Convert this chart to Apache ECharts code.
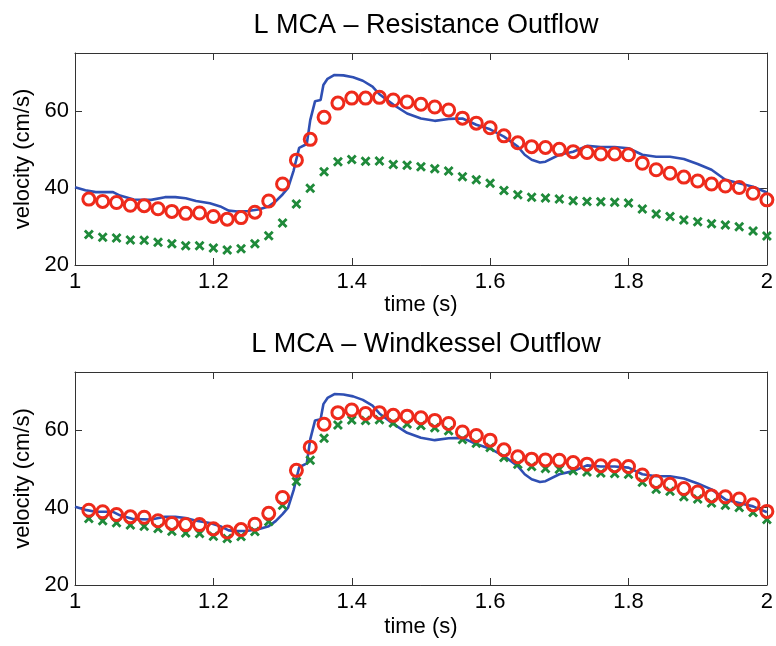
<!DOCTYPE html>
<html>
<head>
<meta charset="utf-8">
<script src="https://cdn.jsdelivr.net/npm/echarts@6/dist/echarts.min.js"></script>
<style>
  html, body { margin: 0; padding: 0; background: #fff; }
  #chart { width: 776px; height: 646px; }
</style>
</head>
<body>
<div id="chart"></div>
<script>
// measured velocity (blue line), [time, velocity]
const measured = [
  [1.00, 40.2], [1.015, 39.4], [1.03, 38.9], [1.055, 38.9], [1.065, 38.0], [1.085, 37.0],
  [1.11, 36.9], [1.13, 37.6], [1.145, 37.6], [1.16, 37.3], [1.175, 36.6], [1.195, 36.0],
  [1.21, 35.2], [1.222, 34.1], [1.235, 33.9], [1.25, 34.0], [1.265, 34.4], [1.28, 35.2],
  [1.29, 36.5], [1.30, 38.3], [1.308, 40.0], [1.316, 44.5], [1.324, 50.4], [1.335, 51.4],
  [1.34, 57.6], [1.347, 62.5], [1.355, 62.8], [1.359, 66.7], [1.365, 68.3], [1.375, 69.3],
  [1.388, 69.2], [1.402, 68.7], [1.416, 67.8], [1.43, 66.3], [1.44, 64.3], [1.46, 61.6],
  [1.48, 59.3], [1.50, 58.0], [1.52, 57.4], [1.54, 57.9], [1.56, 58.0], [1.58, 56.4],
  [1.60, 55.2], [1.62, 53.3], [1.64, 50.7], [1.65, 48.6], [1.66, 47.3], [1.672, 46.6],
  [1.68, 46.8], [1.70, 48.6], [1.72, 49.4], [1.74, 50.9], [1.76, 50.6], [1.78, 50.6],
  [1.80, 50.3], [1.82, 48.6], [1.84, 48.1], [1.86, 48.1], [1.88, 47.5], [1.90, 46.2],
  [1.92, 44.7], [1.94, 42.1], [1.96, 41.2], [1.98, 40.3], [2.00, 38.8]
];

// sample times for the model markers (1.02 .. 2.00)
const times = [
  1.02, 1.04, 1.06, 1.08, 1.10, 1.12, 1.14, 1.16, 1.18, 1.20,
  1.22, 1.24, 1.26, 1.28, 1.30, 1.32, 1.34, 1.36, 1.38, 1.40,
  1.42, 1.44, 1.46, 1.48, 1.50, 1.52, 1.54, 1.56, 1.58, 1.60,
  1.62, 1.64, 1.66, 1.68, 1.70, 1.72, 1.74, 1.76, 1.78, 1.80,
  1.82, 1.84, 1.86, 1.88, 1.90, 1.92, 1.94, 1.96, 1.98, 2.00
];

// resistance outflow - circles
const resCircles = [
  37.1, 36.5, 36.2, 35.5, 35.4, 34.6, 33.9, 33.4, 33.5, 32.6,
  31.9, 32.3, 33.7, 36.6, 41.0, 47.2, 52.6, 58.3, 62.0, 63.3,
  63.3, 63.5, 62.8, 62.3, 61.7, 61.0, 60.2, 58.1, 56.8, 55.6,
  53.5, 51.7, 50.7, 50.5, 50.0, 49.4, 49.2, 48.8, 48.8, 48.6,
  46.4, 44.7, 43.8, 42.8, 41.8, 41.0, 40.5, 40.1, 38.6, 36.9
];
// resistance outflow - crosses
const resCrosses = [
  27.9, 27.2, 27.0, 26.5, 26.4, 25.9, 25.5, 25.0, 25.0, 24.4,
  23.9, 24.2, 25.5, 27.6, 30.9, 35.8, 39.9, 44.2, 46.8, 47.4,
  46.9, 47.0, 46.1, 45.9, 45.5, 45.0, 44.4, 42.9, 42.1, 41.2,
  39.3, 38.2, 37.6, 37.4, 37.1, 36.7, 36.5, 36.4, 36.3, 36.1,
  34.5, 33.2, 32.6, 31.7, 31.2, 30.7, 30.4, 29.9, 28.8, 27.5
];

// windkessel outflow - circles
const wkCircles = [
  39.3, 38.9, 38.2, 37.6, 37.5, 36.6, 35.9, 35.6, 35.6, 34.5,
  33.7, 34.3, 35.7, 38.5, 42.6, 49.6, 55.6, 61.5, 64.5, 65.2,
  64.3, 64.5, 63.8, 63.6, 63.2, 62.5, 61.7, 59.5, 58.6, 57.4,
  54.9, 53.1, 52.5, 52.3, 52.2, 51.6, 51.2, 50.8, 50.8, 50.6,
  48.4, 46.7, 46.0, 44.9, 44.0, 43.0, 42.8, 42.2, 40.7, 39.0
];
// windkessel outflow - crosses
const wkCrosses = [
  37.2, 36.6, 36.1, 35.5, 35.2, 34.6, 33.9, 33.4, 33.3, 32.6,
  32.0, 32.5, 33.8, 36.4, 40.6, 46.7, 52.2, 57.9, 61.3, 62.6,
  62.5, 62.7, 61.8, 61.6, 61.2, 60.6, 59.8, 57.6, 56.6, 55.5,
  52.9, 51.2, 50.6, 50.1, 49.9, 49.5, 49.2, 48.9, 48.8, 48.6,
  46.5, 44.7, 44.2, 42.8, 42.2, 41.2, 40.6, 40.0, 38.7, 36.9
];

const titles = ['L MCA \u2013 Resistance Outflow', 'L MCA \u2013 Windkessel Outflow'];

const FONT = '"Liberation Sans", Arial, Helvetica, sans-serif';
const BLUE = '#2f4fb3';
const RED = '#ee2a1b';
const GREEN = '#1f8a3a';
const AXIS = '#333';
// bold "x" marker
const CROSS = 'path://M0,2L2,0L5,3L8,0L10,2L7,5L10,8L8,10L5,7L2,10L0,8L3,5Z';

const chart = echarts.init(document.getElementById('chart'));

const pair = (ys) => times.map((t, i) => [t, ys[i]]);

const grids = [
  { left: 75, right: 9, top: 53, height: 212 },
  { left: 75, right: 9, top: 372, height: 213 }
];
const nameGaps = [28, 31];

const xAxis = [];
const yAxis = [];
grids.forEach((g, i) => {
  // bottom x axis with labels
  xAxis.push({
    gridIndex: i, type: 'value', min: 1, max: 2, interval: 0.2, position: 'bottom',
    name: 'time (s)', nameLocation: 'middle', nameGap: nameGaps[i],
    nameTextStyle: { fontFamily: FONT, fontSize: 22, color: '#000' },
    axisLine: { show: true, onZero: false, lineStyle: { color: AXIS, width: 1 } },
    axisTick: { show: true, inside: true, length: 7, lineStyle: { color: AXIS } },
    axisLabel: { fontFamily: FONT, fontSize: 22, color: '#000', margin: 6 },
    splitLine: { show: false }
  });
  // top x axis (box)
  xAxis.push({
    gridIndex: i, type: 'value', min: 1, max: 2, interval: 0.2, position: 'top',
    axisLine: { show: true, onZero: false, lineStyle: { color: AXIS, width: 1 } },
    axisTick: { show: true, inside: true, length: 7, lineStyle: { color: AXIS } },
    axisLabel: { show: false },
    splitLine: { show: false }
  });
  yAxis.push({
    gridIndex: i, type: 'value', min: 20, max: 75, interval: 20, position: 'left',
    name: 'velocity (cm/s)', nameLocation: 'middle', nameGap: 37,
    nameTextStyle: { fontFamily: FONT, fontSize: 22, color: '#000' },
    axisLine: { show: true, onZero: false, lineStyle: { color: AXIS, width: 1 } },
    axisTick: { show: true, inside: true, length: 7, lineStyle: { color: AXIS } },
    axisLabel: { fontFamily: FONT, fontSize: 22, color: '#000', margin: 6, showMaxLabel: false },
    splitLine: { show: false }
  });
  yAxis.push({
    gridIndex: i, type: 'value', min: 20, max: 75, interval: 20, position: 'right',
    axisLine: { show: true, onZero: false, lineStyle: { color: AXIS, width: 1 } },
    axisTick: { show: true, inside: true, length: 7, lineStyle: { color: AXIS } },
    axisLabel: { show: false },
    splitLine: { show: false }
  });
});

const series = [];
[[resCircles, resCrosses], [wkCircles, wkCrosses]].forEach((sets, i) => {
  const xi = i * 2, yi = i * 2;
  series.push({
    type: 'line', xAxisIndex: xi, yAxisIndex: yi, data: measured,
    showSymbol: false, lineStyle: { color: BLUE, width: 2.6 }, z: 2, silent: true
  });
  series.push({
    type: 'scatter', xAxisIndex: xi, yAxisIndex: yi, data: pair(sets[1]),
    symbol: CROSS, symbolSize: 10, itemStyle: { color: GREEN, opacity: 1 }, z: 3, silent: true
  });
  series.push({
    type: 'scatter', xAxisIndex: xi, yAxisIndex: yi, data: pair(sets[0]),
    symbol: 'circle', symbolSize: 12,
    itemStyle: { color: 'rgba(0,0,0,0)', borderColor: RED, borderWidth: 3, opacity: 1 }, z: 4, silent: true
  });
});

chart.setOption({
  animation: false,
  title: [
    { text: titles[0], left: 421, top: 7, textAlign: 'center',
      textStyle: { fontFamily: FONT, fontSize: 27, fontWeight: 'normal', color: '#000' } },
    { text: titles[1], left: 421, top: 326, textAlign: 'center',
      textStyle: { fontFamily: FONT, fontSize: 27, fontWeight: 'normal', color: '#000' } }
  ],
  grid: grids,
  xAxis: xAxis,
  yAxis: yAxis,
  series: series
});
</script>
</body>
</html>
